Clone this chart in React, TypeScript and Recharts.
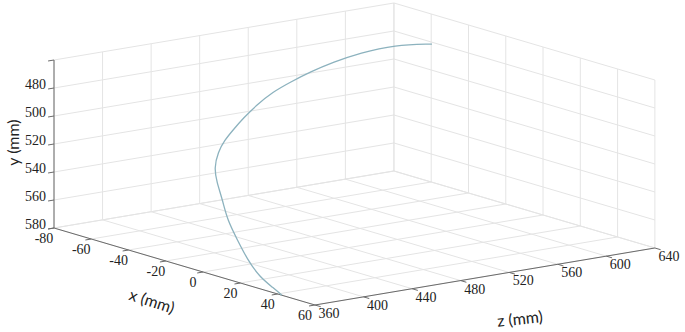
import React from 'react';
import { ComposedChart, XAxis, YAxis, Line, Scatter, ReferenceLine } from 'recharts';

// axis ticks (mm)
const X_TICKS = [-80, -60, -40, -20, 0, 20, 40, 60];
const Y_TICKS = [460, 480, 500, 520, 540, 560, 580];
const Z_TICKS = [360, 400, 440, 480, 520, 560, 600, 640];
// the 460 tick has no label in the figure
const Y_LABELED = [480, 500, 520, 540, 560, 580];

// measured trajectory (mm)
const PATH_X = [42.3, 32.5, 18, 1.7, -13.5, -28, -40.4, -51.3, -59.2, -64.3, -66.6, -68, -69.5, -70.3, -70.8, -70.3, -69.5, -68.1, -66.2, -63.2, -59.6];
const PATH_Y = [580, 579.8, 579.3, 575.6, 569.5, 563.1, 555.7, 549, 543.5, 535.7, 529.4, 524.1, 517.6, 510.5, 503.4, 498.1, 492.7, 487.6, 483.1, 479.7, 481.3];
const PATH_Z = [360, 368, 379, 394, 409, 423, 438, 450, 460, 471, 480, 489, 500, 512, 526, 540, 555, 572, 591, 615, 640];

const W = 685;
const H = 332;

const X0 = X_TICKS[0];
const X1 = X_TICKS[X_TICKS.length - 1];
const Y0 = Y_TICKS[0];
const Y1 = Y_TICKS[Y_TICKS.length - 1];
const Z0 = Z_TICKS[0];
const Z1 = Z_TICKS[Z_TICKS.length - 1];

// oblique view: screen offset per mm along each axis
const ORIGIN = { px: 54, py: 228 };
const EX = { px: 1.864, py: 0.55 };
const EZ = { px: 1.214, py: -0.2036 };
const EY = 1.4;

const proj = (x: number, y: number, z: number) => ({
  px: ORIGIN.px + EX.px * (x - X0) + EZ.px * (z - Z0),
  py: ORIGIN.py + EX.py * (x - X0) + EZ.py * (z - Z0) - EY * (Y1 - y),
});

const unit = (v: { px: number; py: number }, s: number) => {
  const l = Math.hypot(v.px, v.py);
  return { px: (v.px / l) * s, py: (v.py / l) * s };
};

const seg = (a: { px: number; py: number }, b: { px: number; py: number }) => [
  { x: a.px, y: a.py },
  { x: b.px, y: b.py },
];

const grid: any[] = [];
// left wall (x = -80)
Z_TICKS.forEach(z => grid.push(seg(proj(X0, Y0, z), proj(X0, Y1, z))));
Y_TICKS.forEach(y => grid.push(seg(proj(X0, y, Z0), proj(X0, y, Z1))));
// back wall (z = 640)
X_TICKS.forEach(x => grid.push(seg(proj(x, Y0, Z1), proj(x, Y1, Z1))));
Y_TICKS.forEach(y => grid.push(seg(proj(X0, y, Z1), proj(X1, y, Z1))));
// floor (y = 580)
X_TICKS.forEach(x => grid.push(seg(proj(x, Y1, Z0), proj(x, Y1, Z1))));
Z_TICKS.forEach(z => grid.push(seg(proj(X0, Y1, z), proj(X1, Y1, z))));

const axes = [
  seg(proj(X0, Y0, Z0), proj(X0, Y1, Z0)),
  seg(proj(X0, Y1, Z0), proj(X1, Y1, Z0)),
  seg(proj(X1, Y1, Z0), proj(X1, Y1, Z1)),
];

const TL = 6;
const outZ = unit({ px: -EZ.px, py: -EZ.py }, TL);
const outX = unit(EX, TL);
const tickMarks: any[] = [];
Y_TICKS.forEach(y => {
  const p = proj(X0, y, Z0);
  tickMarks.push(seg(p, { px: p.px + outZ.px, py: p.py + outZ.py }));
});
X_TICKS.forEach(x => {
  const p = proj(x, Y1, Z0);
  tickMarks.push(seg(p, { px: p.px + outZ.px, py: p.py + outZ.py }));
});
Z_TICKS.forEach(z => {
  const p = proj(X1, Y1, z);
  tickMarks.push(seg(p, { px: p.px + outX.px, py: p.py + outX.py }));
});

const pathData = PATH_X.map((x, i) => proj(x, PATH_Y[i], PATH_Z[i]));

const SERIF = "'Liberation Serif', 'Times New Roman', serif";
const SANS = "Lato, 'Noto Sans', sans-serif";

const tickLabels = [
  ...Y_LABELED.map(y => {
    const p = proj(X0, y, Z0);
    return { px: p.px - 8, py: p.py - 4, text: String(y), anchor: 'end', angle: 0, family: SERIF, size: 14 };
  }),
  ...X_TICKS.map(x => {
    const p = proj(x, Y1, Z0);
    return { px: p.px - 10, py: p.py + 10.5, text: String(x), anchor: 'middle', angle: 0, family: SERIF, size: 14 };
  }),
  ...Z_TICKS.map(z => {
    const p = proj(X1, Y1, z);
    return { px: p.px + 14, py: p.py + 8.5, text: String(z), anchor: 'middle', angle: 0, family: SERIF, size: 14 };
  }),
];

const xMid = proj((X0 + X1) / 2 - 20, Y1, Z0);
const zMid = proj(X1, Y1, (Z0 + Z1) / 2);
const yMid = proj(X0, (Y0 + Y1) / 2 - 1, Z0);
const axisTitles = [
  { px: xMid.px + 5, py: xMid.py + 45, text: 'x (mm)', anchor: 'middle', angle: 18, family: SANS, size: 16 },
  { px: yMid.px - 41, py: yMid.py, text: 'y (mm)', anchor: 'middle', angle: -90, family: SANS, size: 16 },
  { px: zMid.px + 35, py: zMid.py + 41.5, text: 'z (mm)', anchor: 'middle', angle: -6, family: SANS, size: 16 },
];

const TextMark = (p: any) => {
  const d = p.payload;
  return (
    <text
      x={p.cx}
      y={p.cy}
      textAnchor={d.anchor}
      dominantBaseline="central"
      fontFamily={d.family}
      fontSize={d.size}
      fill="#222"
      transform={d.angle ? `rotate(${d.angle} ${p.cx} ${p.cy})` : undefined}
    >
      {d.text}
    </text>
  );
};

export default function App() {
  return (
    <div style={{ position: 'absolute', left: 0, top: 0, width: W, height: H, background: '#fff' }}>
      <ComposedChart width={W} height={H} margin={{ top: 0, right: 0, bottom: 0, left: 0 }}>
        <XAxis type="number" dataKey="px" domain={[0, W]} hide allowDataOverflow />
        <YAxis type="number" dataKey="py" domain={[0, H]} reversed hide allowDataOverflow />
        {grid.map((s, i) => (
          <ReferenceLine key={`g${i}`} segment={s} stroke="#e4e4e4" strokeWidth={1} ifOverflow="visible" />
        ))}
        {axes.map((s, i) => (
          <ReferenceLine key={`a${i}`} segment={s} stroke="#6a6a6a" strokeWidth={1} ifOverflow="visible" />
        ))}
        {tickMarks.map((s, i) => (
          <ReferenceLine key={`t${i}`} segment={s} stroke="#6a6a6a" strokeWidth={1} ifOverflow="visible" />
        ))}
        <Line
          data={pathData}
          dataKey="py"
          type="basis"
          stroke="#8cb2be"
          strokeWidth={1.3}
          dot={false}
          isAnimationActive={false}
        />
        <Scatter data={tickLabels} dataKey="py" shape={TextMark} isAnimationActive={false} />
        <Scatter data={axisTitles} dataKey="py" shape={TextMark} isAnimationActive={false} />
      </ComposedChart>
    </div>
  );
}
